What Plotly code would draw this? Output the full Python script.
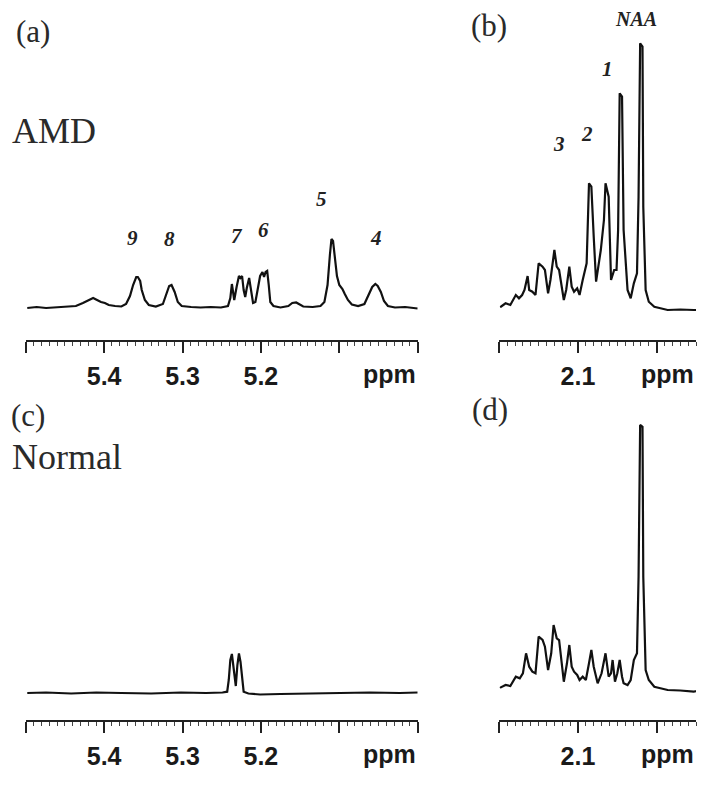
import plotly.graph_objects as go

# page body keeps an 8px margin, so the figure is 8px smaller than the window
OFF = 8
W, H = 708 - OFF, 785 - OFF

# ---------------- data (ppm, intensity in arbitrary units) ----------------
# (a) AMD, 5.0-5.5 ppm region
a_ppm = [5.498, 5.486, 5.474, 5.461, 5.448, 5.436, 5.427, 5.419, 5.414, 5.409,
         5.404, 5.399, 5.394, 5.386, 5.378, 5.372, 5.367, 5.363, 5.359, 5.357,
         5.354, 5.352, 5.348, 5.343, 5.334, 5.325, 5.321, 5.317, 5.314, 5.310,
         5.306, 5.301, 5.289, 5.277, 5.264, 5.251, 5.242, 5.239, 5.237, 5.235,
         5.234, 5.231, 5.228, 5.226, 5.224, 5.222, 5.220, 5.218, 5.215, 5.213,
         5.210, 5.207, 5.204, 5.201, 5.198, 5.196, 5.194, 5.192, 5.190, 5.188,
         5.184, 5.175, 5.165, 5.160, 5.155, 5.151, 5.146, 5.134, 5.124, 5.119,
         5.115, 5.112, 5.110, 5.108, 5.106, 5.103, 5.100, 5.096, 5.093, 5.089,
         5.084, 5.076, 5.068, 5.063, 5.058, 5.054, 5.051, 5.047, 5.043, 5.038,
         5.029, 5.016, 5.000]
a_int = [0, 1, 0, 0.5, 1, 2, 5, 8.5, 10, 8,
         6, 5, 3, 2, 1.5, 4, 12, 23, 31, 31,
         27, 18, 8, 3, 1.5, 4, 13, 22, 23, 16,
         6, 2, 1, 0.5, 1, 0.5, 2, 10, 24, 11,
         8, 21, 32, 30, 32, 18, 11, 20, 30, 20,
         5, 6, 18, 32, 36, 31, 36, 37, 23, 6,
         2, 0.5, 2, 5, 5.5, 4, 1.5, 1, 2, 6,
         23, 53, 69, 67, 53, 32, 23, 19, 14, 8,
         3.5, 2, 4, 12, 21, 24, 22, 16, 7, 2,
         0.5, 1, -0.5]

# (b) AMD, 1.95-2.2 ppm region
b_ppm = [2.199, 2.198, 2.192, 2.186, 2.179, 2.175, 2.171, 2.168, 2.164, 2.162,
         2.158, 2.154, 2.150, 2.145, 2.142, 2.138, 2.135, 2.130, 2.127, 2.124,
         2.122, 2.118, 2.115, 2.111, 2.108, 2.105, 2.101, 2.098, 2.094, 2.089,
         2.086, 2.083, 2.080, 2.077, 2.071, 2.067, 2.065, 2.061, 2.058, 2.054,
         2.051, 2.049, 2.047, 2.044, 2.042, 2.037, 2.033, 2.029, 2.025, 2.023,
         2.021, 2.018, 2.017, 2.014, 2.010, 2.003, 1.986, 1.970, 1.953, 1.950]
b_int = [3, 3.3, 6.7, 5, 15, 11.7, 15, 20, 34, 20,
         18.3, 15, 46.7, 43.3, 40, 16.7, 30, 60, 43.3, 40,
         30, 10, 20, 43.3, 23.3, 18.3, 21.7, 15, 30, 46.7,
         126.7, 123.3, 73.3, 28.3, 60, 90, 126.7, 113.3, 30, 40,
         40, 80, 216.7, 213.3, 80, 20, 11.7, 26.7, 36.7, 113.3,
         266.7, 263.3, 103.3, 20, 8.3, 3.3, 0, 0.5, 0, 0]

# (c) Normal, 5.0-5.5 ppm region
c_ppm = [5.498, 5.474, 5.442, 5.410, 5.378, 5.340, 5.302, 5.270, 5.249, 5.243,
         5.241, 5.239, 5.237, 5.235, 5.232, 5.230, 5.228, 5.226, 5.224, 5.222,
         5.216, 5.201, 5.175, 5.137, 5.099, 5.061, 5.023, 5.000]
c_int = [0, 0.5, -0.5, 0.5, 0, -0.5, 0.5, 0, 0.5, 1.3,
         13, 33, 39, 28, 7, 28, 39.5, 31, 13, 1.3,
         -0.5, -1.5, -1, -0.5, 0, 0.5, 0, 0.5]

# (d) Normal, 1.95-2.2 ppm region
d_ppm = [2.199, 2.198, 2.192, 2.186, 2.179, 2.174, 2.170, 2.166, 2.162, 2.158,
         2.154, 2.150, 2.145, 2.142, 2.138, 2.134, 2.131, 2.127, 2.124, 2.121,
         2.118, 2.114, 2.111, 2.108, 2.105, 2.101, 2.098, 2.094, 2.090, 2.086,
         2.083, 2.080, 2.075, 2.070, 2.065, 2.061, 2.058, 2.056, 2.053, 2.050,
         2.047, 2.044, 2.042, 2.037, 2.033, 2.029, 2.025, 2.023, 2.021, 2.018,
         2.017, 2.014, 2.010, 2.003, 1.986, 1.970, 1.953, 1.950]
d_int = [3, 3.7, 6, 5, 14.3, 12.7, 17.7, 37.7, 24.3, 19.3,
         17.7, 54.3, 51, 44.3, 21, 37.7, 66, 52.7, 51, 31,
         9.3, 27.7, 46, 24.3, 19.3, 16, 11, 14.3, 11, 27.7,
         41, 24.3, 7.7, 17.7, 37.7, 14.3, 17.7, 31, 9.3, 17.7,
         31, 14.3, 7.7, 6, 11, 31, 37.7, 114.3, 266, 264.3,
         114.3, 21, 11, 4.3, 1, 0.5, -0.7, 0]

# tick labels
left_tickvals = [5.5, 5.4, 5.3, 5.2, 5.1, 5.0]
left_ticktext = ["", "5.4", "5.3", "5.2", "", ""]
right_tickvals = [2.2, 2.1, 2.0]
right_ticktext = ["", "2.1", ""]

# peak labels
a_labels = ["9", "8", "7", "6", "5", "4"]
a_label_ppm = [5.364, 5.317, 5.230, 5.197, 5.123, 5.053]
b_labels = ["3", "2", "1", "NAA"]
b_label_ppm = [2.124, 2.088, 2.062, 2.026]

# ---------------- figure ----------------
def px(x):
    return (x - OFF) / W

def py(y):
    return 1 - (y - OFF) / H

fig = go.Figure()
line = dict(color="#111111", width=2.2)
fig.add_trace(go.Scatter(x=a_ppm, y=a_int, mode="lines", line=line, xaxis="x", yaxis="y", showlegend=False))
fig.add_trace(go.Scatter(x=b_ppm, y=b_int, mode="lines", line=line, xaxis="x2", yaxis="y2", showlegend=False))
fig.add_trace(go.Scatter(x=c_ppm, y=c_int, mode="lines", line=line, xaxis="x3", yaxis="y3", showlegend=False))
fig.add_trace(go.Scatter(x=d_ppm, y=d_int, mode="lines", line=line, xaxis="x4", yaxis="y4", showlegend=False))

left_dom = [px(25.7), px(417.7)]
right_dom = [px(499.3), px(696)]
top_dom = [py(340), py(20)]
bot_dom = [py(720), py(400)]

sans = "Liberation Sans, Arial, sans-serif"
tickfont = dict(family=sans, size=25, color="#1a1a1a", weight="bold")

def xax(dom, rng, tv, tt, anchor):
    return dict(domain=dom, range=rng, anchor=anchor, showline=True, linecolor="#222222",
                linewidth=1.5, ticks="outside", ticklen=11, tickwidth=1.5, tickcolor="#222222",
                tickmode="array", tickvals=tv, ticktext=tt, tickfont=tickfont,
                showgrid=False, zeroline=False, ticklabelstandoff=2,
                minor=dict(ticks="outside", ticklen=4, tickwidth=1, tickcolor="#444444",
                           tickmode="linear", tick0=0, dtick=0.01, showgrid=False))

def yax(dom, rng, anchor):
    return dict(domain=dom, range=rng, anchor=anchor, visible=False, showgrid=False, zeroline=False)

fig.update_layout(
    width=W, height=H, margin=dict(l=0, r=0, t=0, b=0),
    paper_bgcolor="white", plot_bgcolor="white",
    xaxis=xax(left_dom, [5.5, 5.0], left_tickvals, left_ticktext, "y"),
    xaxis2=xax(right_dom, [2.2, 1.95], right_tickvals, right_ticktext, "y2"),
    xaxis3=xax(left_dom, [5.5, 5.0], left_tickvals, left_ticktext, "y3"),
    xaxis4=xax(right_dom, [2.2, 1.95], right_tickvals, right_ticktext, "y4"),
    yaxis=yax(top_dom, [-32, 288], "x"),
    yaxis2=yax(top_dom, [-30, 290], "x2"),
    yaxis3=yax(bot_dom, [-27, 293], "x3"),
    yaxis4=yax(bot_dom, [-29, 291], "x4"),
)

serif = "Liberation Serif, Times New Roman, serif"
ann = []
def text(t, x, y, size, xanchor="center", color="#2a2a2a"):
    ann.append(dict(text=t, x=px(x), y=py(y), xref="paper", yref="paper", showarrow=False,
                    xanchor=xanchor, yanchor="middle", font=dict(family=serif, size=size, color=color)))

text("(a)", 33, 31, 31)
text("AMD", 10, 131, 36, xanchor="left")
text("(b)", 489, 26, 31)
text("(c)", 28, 416, 31)
text("Normal", 10, 457, 36, xanchor="left")
text("(d)", 490, 409, 31)

# peak labels positioned in data coordinates
a_label_y = [70, 69, 72, 78, 109, 70]
for t, p, yv in zip(a_labels, a_label_ppm, a_label_y):
    ann.append(dict(text="<b><i>" + t + "</i></b>", x=p, y=yv, xref="x", yref="y", showarrow=False,
                    font=dict(family=serif, size=21, color="#222222")))
b_label_y = [166, 176, 241, 284]
for t, p, yv in zip(b_labels, b_label_ppm, b_label_y):
    ann.append(dict(text="<b><i>" + t + "</i></b>", x=p, y=yv, xref="x2", yref="y2", showarrow=False,
                    yshift=(7 if t == "NAA" else 0),
                    font=dict(family=serif, size=21 if t != "NAA" else 20, color="#222222")))

# "ppm" unit labels at the right end of each axis
for xr, yr, endv in [("x", "y", 5.0), ("x2", "y2", 1.95), ("x3", "y3", 5.0), ("x4", "y4", 1.95)]:
    ann.append(dict(text="ppm", x=endv, y=0, xref=xr, yref=yr + " domain", showarrow=False,
                    xanchor="right", yanchor="top", yshift=-18,
                    font=dict(family=sans, size=25, color="#1a1a1a", weight="bold")))

fig.update_layout(annotations=ann)
fig.write_html("out.html")
